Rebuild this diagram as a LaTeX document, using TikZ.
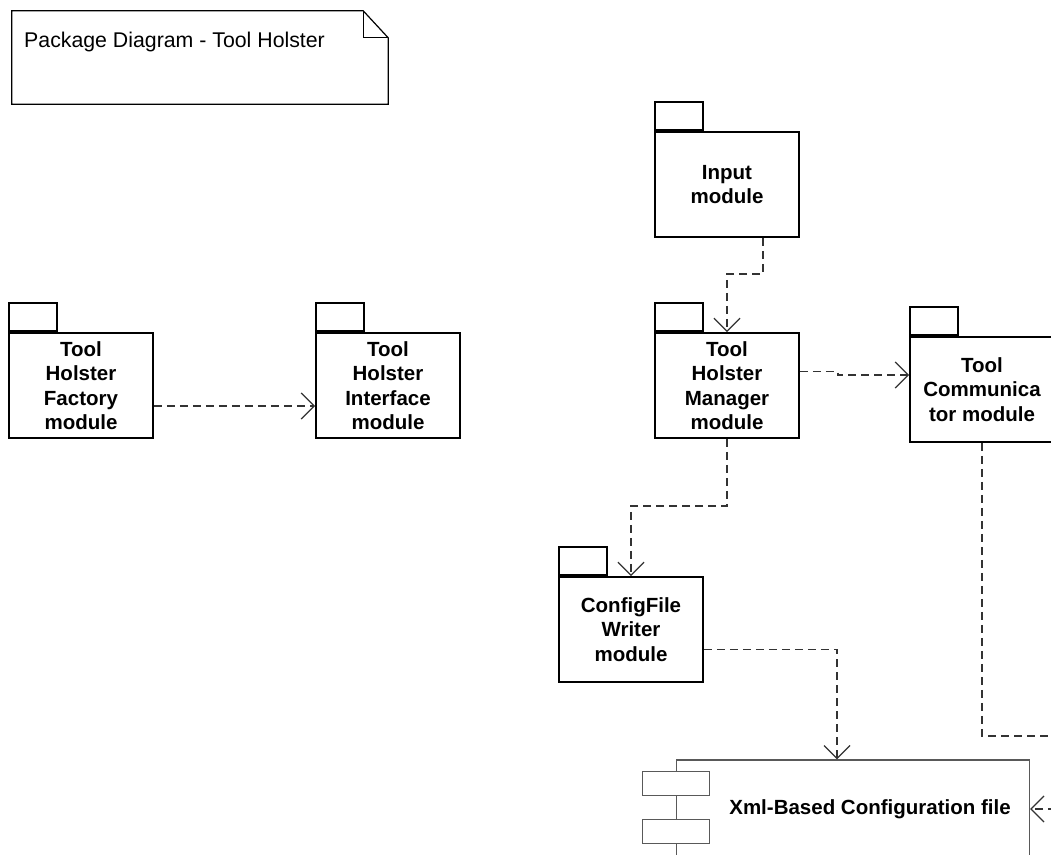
\documentclass[tikz,border=0pt]{standalone}
\usepackage{fontspec}
\setmainfont{Liberation Sans}
\usetikzlibrary{positioning,arrows.meta}

\tikzset{
  pkg/.style={draw=black,line width=1.8pt,minimum width=144pt,minimum height=105pt,inner sep=0pt,align=center,font=\fontsize{20.5}{24.5}\selectfont\bfseries},
  pkgtab/.style={draw=black,line width=1.8pt,minimum width=48pt,minimum height=28pt,inner sep=0pt,anchor=south west},
  dep/.style={draw=black!80,line width=1.3pt,dash pattern=on 8pt off 5pt,-{Straight Barb[length=13pt,width=26pt]}},
  comp/.style={draw=black!65,line width=1.2pt,fill=white,minimum width=67pt,minimum height=24pt,inner sep=0pt},
}

\begin{document}
\begin{tikzpicture}[x=1pt,y=-1pt]
		\useasboundingbox (0,0) rectangle (1051,854);
		\clip (0,0) rectangle (1051,854);

		%note
		\node[minimum width=376pt,minimum height=93pt,inner sep=0pt] (n0) at (200,57.5) {};
		\node[anchor=base west,inner sep=0pt,font=\fontsize{21.3}{25}\selectfont] (title) at (24,47) {Package Diagram - Tool Holster};
		\draw[line width=1.2pt] (n0.south west) -- (n0.north west) -- ([xshift=-25pt]n0.north east) -- ([yshift=-27pt]n0.north east) -- (n0.south east) -- cycle;
		\draw[line width=1.2pt] ([xshift=-25pt]n0.north east) -- ([xshift=-25pt,yshift=-27pt]n0.north east) -- ([yshift=-27pt]n0.north east);

		%left packages
		\node[pkg] (n1) at (81,385.5) {Tool\\Holster\\Factory\\module};
		\node[pkg] (n2) at (388,385.5) {Tool\\Holster\\Interface\\module};

		%right packages
		\node[pkg] (n3) at (727,184.5) {Input\\module};
		\node[pkg] (n4) at (727,385.5) {Tool\\Holster\\Manager\\module};
		\node[pkg] (n5) at (982,389.5) {Tool\\Communica\\tor module};
		\node[pkg] (n6) at (631,629.5) {ConfigFile\\Writer\\module};

		%tabs
		\node[pkgtab] (t1) at (n1.north west) {};
		\node[pkgtab] (t2) at (n2.north west) {};
		\node[pkgtab] (t3) at (n3.north west) {};
		\node[pkgtab] (t4) at (n4.north west) {};
		\node[pkgtab] (t5) at (n5.north west) {};
		\node[pkgtab] (t6) at (n6.north west) {};

		%component
		\node[draw=black!65,line width=1.2pt,minimum width=353pt,minimum height=98pt,inner sep=0pt] (n7) at (853,809) {};
		\node[font=\fontsize{20.5}{24.5}\selectfont\bfseries] (n7l) at ([xshift=17pt]n7.center) {Xml-Based Configuration file};
		\node[comp] (c1) at ([yshift=-24pt]n7.north west) {};
		\node[comp] (c2) at ([yshift=-72pt]n7.north west) {};

		%edges
		\draw[dep] (n1.east |- 0,406) -- (n2.west |- 0,406);
		\draw[dep] ([xshift=36pt]n3.south) -- ++(0,36) -| (n4.north);
		\draw[dep] ([yshift=14pt]n4.east) -- ++(38,0) |- ([yshift=14.5pt]n5.west);
		\draw[dep] (n4.south) -- ++(0,67) -| (n6.north);
		\draw[dep] ([yshift=-20pt]n6.east) -| ([xshift=-16pt]n7.north);
		\draw[dep] (n5.south) -- ++(0,293) -- ++(88,0) |- (n7.east);
	\end{tikzpicture}
\end{document}
